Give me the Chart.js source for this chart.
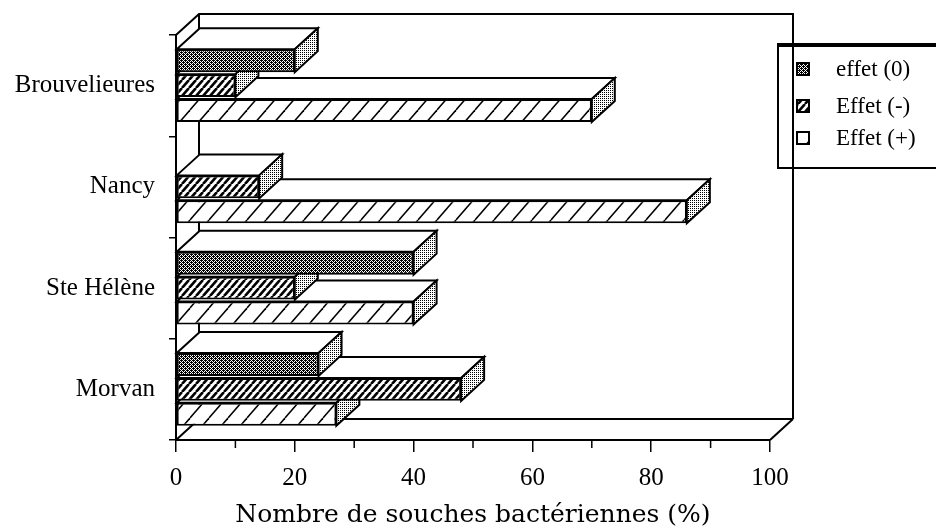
<!DOCTYPE html>
<html>
<head>
<meta charset="utf-8">
<script src="https://cdn.jsdelivr.net/npm/chart.js@4.4.1/dist/chart.umd.min.js"></script>
<style>
    body { margin: 0; background: #fff; }
    canvas { display: block; }
</style>
</head>
<body>
<canvas id="chart" width="936" height="532"></canvas>
<script>
// Data
const categories = ['Brouvelieures', 'Nancy', 'Ste Hélène', 'Morvan'];
const seriesNames = ['effet (0)', 'Effet (-)', 'Effet (+)'];
const effetZero = [20, 0, 40, 24];
const effetMoins = [10, 14, 20, 48];
const effetPlus = [70, 86, 40, 27];

// 3D depth offset (right, up)
const DX = 23, DY = -21;

const ctx = document.getElementById('chart').getContext('2d');

function makePattern(w, h, draw) {
    const c = document.createElement('canvas');
    c.width = w;
    c.height = h;
    const g = c.getContext('2d');
    g.fillStyle = '#fff';
    g.fillRect(0, 0, w, h);
    draw(g, w, h);
    return ctx.createPattern(c, 'repeat');
}

function hatch(w, h, lw) {
    return makePattern(w, h, (g) => {
        g.strokeStyle = '#000';
        g.lineWidth = lw;
        for (let k = -1; k <= 1; k++) {
            g.beginPath();
            g.moveTo(k * w, h);
            g.lineTo(k * w + w, 0);
            g.stroke();
        }
    });
}

// darker dotted grey for the front of "effet (0)"
const stipple = makePattern(4, 4, (g) => {
    g.fillStyle = '#000';
    for (let y = 0; y < 4; y++) {
        for (let x = 0; x < 4; x++) {
            if ((x + y) % 2 === 0 || (x === 1 && y === 0) || (x === 3 && y === 2)) g.fillRect(x, y, 1, 1);
        }
    }
});
const lightStipple = makePattern(2, 2, (g) => {
    g.fillStyle = '#000';
    g.fillRect(0, 0, 1, 1);
});
const denseHatch = hatch(7, 8, 2.6);
const sparseHatch = hatch(19, 22, 1.5);
const fills = [stipple, denseHatch, sparseHatch];

function line(c, pts, lw) {
    c.beginPath();
    c.moveTo(pts[0][0], pts[0][1]);
    for (let i = 1; i < pts.length; i++) c.lineTo(pts[i][0], pts[i][1]);
    c.lineWidth = lw;
    c.strokeStyle = '#000';
    c.stroke();
}

function poly(c, pts, fill) {
    c.beginPath();
    c.moveTo(pts[0][0], pts[0][1]);
    for (let i = 1; i < pts.length; i++) c.lineTo(pts[i][0], pts[i][1]);
    c.closePath();
    c.fillStyle = fill;
    c.fill();
    c.lineWidth = 2;
    c.strokeStyle = '#000';
    c.stroke();
}

// back wall, floor, legend, minor ticks and the top/side faces of the bars
const depthPlugin = {
    id: 'depth',
    beforeDatasetsDraw(chart) {
        const c = chart.ctx;
        const a = chart.chartArea;
        c.save();
        c.lineJoin = 'miter';

        // legend box (the back wall line passes over it)
        c.fillStyle = '#fff';
        c.fillRect(778, 44, 170, 124);
        c.lineWidth = 2;
        c.strokeStyle = '#000';
        c.strokeRect(778, 44, 170, 124);
        line(c, [[778, 45], [936, 45]], 4);
        const itemY = [69, 106, 138];
        chart.data.datasets.forEach((ds, i) => {
            c.fillStyle = fills[i];
            c.fillRect(797, itemY[i] - 6, 12, 12);
            c.lineWidth = 2;
            c.strokeRect(797, itemY[i] - 6, 12, 12);
            c.fillStyle = '#000';
            c.font = '23px "Liberation Serif"';
            c.textBaseline = 'middle';
            c.textAlign = 'left';
            c.fillText(ds.label, 836, itemY[i] + 1);
        });

        // back wall and floor
        line(c, [[a.left, a.top], [a.left + DX, a.top + DY], [a.right + DX, a.top + DY], [a.right + DX, a.bottom + DY]], 2);
        line(c, [[a.left + DX, a.top + DY], [a.left + DX, a.bottom + DY], [a.right + DX, a.bottom + DY]], 2);
        line(c, [[a.left, a.bottom], [a.left + DX, a.bottom + DY]], 2);
        line(c, [[a.right, a.bottom], [a.right + DX, a.bottom + DY]], 2);

        // minor ticks
        const xs = chart.scales.x;
        for (let v = 10; v < 100; v += 20) {
            const px = xs.getPixelForValue(v);
            line(c, [[px, a.bottom], [px, a.bottom + 8]], 1.5);
        }

        // top and side faces, drawn from the bottom of the chart upwards
        const nCat = chart.data.labels.length;
        const nDs = chart.data.datasets.length;
        for (let i = nCat - 1; i >= 0; i--) {
            for (let d = nDs - 1; d >= 0; d--) {
                const el = chart.getDatasetMeta(d).data[i];
                if (chart.data.datasets[d].data[i] <= 0) continue;
                const x0 = el.base, x1 = el.x;
                const y0 = el.y - el.height / 2, y1 = el.y + el.height / 2;
                poly(c, [[x0, y0], [x0 + DX, y0 + DY], [x1 + DX, y0 + DY], [x1, y0]], '#fff');
                poly(c, [[x1, y0], [x1 + DX, y0 + DY], [x1 + DX, y1 + DY], [x1, y1]], lightStipple);
            }
        }
        c.restore();
    }
};

const seriesData = [effetZero, effetMoins, effetPlus];

new Chart(ctx, {
    type: 'bar',
    data: {
        labels: categories,
        datasets: seriesNames.map((name, i) => ({
            label: name,
            data: seriesData[i],
            backgroundColor: fills[i],
            borderColor: '#000',
            borderWidth: 2,
            borderSkipped: false,
            categoryPercentage: 0.74,
            barPercentage: 0.92
        }))
    },
    options: {
        indexAxis: 'y',
        responsive: false,
        animation: false,
        devicePixelRatio: 1,
        layout: {
            padding: { left: 0, top: 35, right: 166, bottom: 0 }
        },
        plugins: {
            legend: { display: false },
            tooltip: { enabled: false }
        },
        scales: {
            x: {
                min: 0,
                max: 100,
                afterFit: (s) => { s.height = 92; },
                border: { display: true, color: '#000', width: 2 },
                grid: { drawOnChartArea: false, drawTicks: true, tickLength: 12, color: '#000', lineWidth: 1.5 },
                ticks: {
                    stepSize: 20,
                    color: '#000',
                    padding: 11,
                    font: { family: 'Liberation Serif', size: 25 }
                },
                title: {
                    display: true,
                    text: 'Nombre de souches bactériennes (%)',
                    color: '#000',
                    font: { family: 'DejaVu Serif', size: 25 },
                    padding: { top: 0, bottom: 2 }
                }
            },
            y: {
                afterFit: (s) => { s.width = 176; },
                border: { display: true, color: '#000', width: 2 },
                grid: { drawOnChartArea: false, drawTicks: true, tickLength: 7, color: '#000', lineWidth: 1.5 },
                ticks: {
                    color: '#000',
                    padding: 14,
                    font: { family: 'Liberation Serif', size: 25 }
                }
            }
        }
    },
    plugins: [depthPlugin]
});
</script>
</body>
</html>
